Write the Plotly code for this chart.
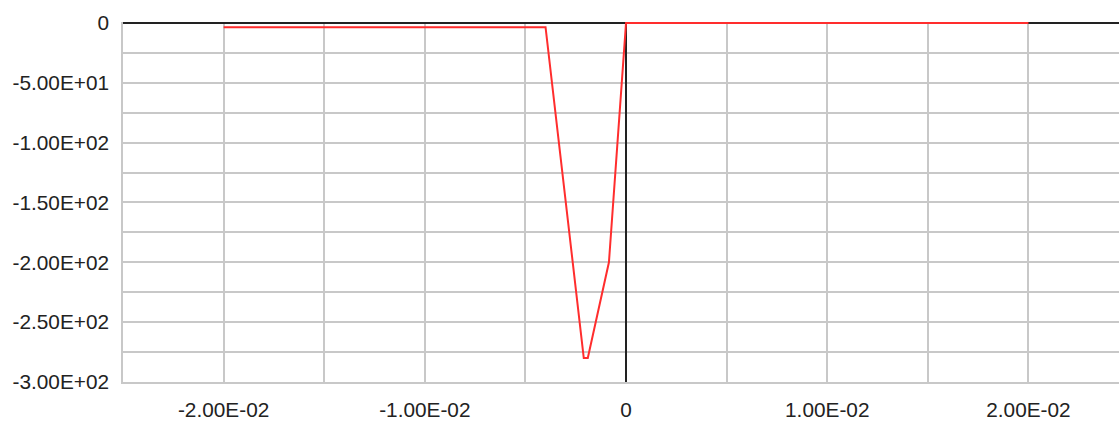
import plotly.graph_objects as go

# Data
x_vals = [-0.02, -0.004, -0.0021, -0.0019, -0.00085, -0.00025, 0.0, 0.02]
y_vals = [-3.5, -3.5, -280.0, -280.0, -200.0, -64.0, 0.0, 0.0]

x_tickvals = [-0.02, -0.01, 0.0, 0.01, 0.02]
x_ticktext = ["-2.00E-02", "-1.00E-02", "0", "1.00E-02", "2.00E-02"]
y_tickvals = [0, -50, -100, -150, -200, -250, -300]
y_ticktext = ["0", "-5.00E+01", "-1.00E+02", "-1.50E+02", "-2.00E+02", "-2.50E+02", "-3.00E+02"]

FONT = "Liberation Sans, Arial, sans-serif"
GRID = "#c8c8c8"
FS = 20.8

fig = go.Figure()
fig.add_trace(go.Scatter(
    x=x_vals, y=y_vals, mode="lines",
    line=dict(color="rgb(255,45,45)", width=2),
    showlegend=False, hoverinfo="skip",
))

fig.update_layout(
    width=1119, height=423,
    margin=dict(l=123, r=0, t=22, b=41, autoexpand=False),
    paper_bgcolor="white", plot_bgcolor="white",
    font=dict(family=FONT, size=FS, color="#222"),
    showlegend=False,
)
fig.update_xaxes(
    range=[-0.025, 0.0245], automargin=False,
    tickmode="array", tickvals=x_tickvals, ticktext=x_ticktext,
    ticks="", ticklabelstandoff=8,
    showgrid=True, gridcolor=GRID, gridwidth=1.5,
    minor=dict(dtick=0.005, tick0=0, showgrid=True, gridcolor=GRID, gridwidth=1.5),
    zeroline=True, zerolinecolor="#222", zerolinewidth=2.2,
    showline=True, linecolor=GRID, linewidth=1.5,
    tickfont=dict(family=FONT, size=FS, color="#222"),
)
fig.update_yaxes(
    range=[-300, 0.8], automargin=False,
    tickmode="array", tickvals=y_tickvals, ticktext=y_ticktext,
    ticks="", ticklabelstandoff=8,
    showgrid=True, gridcolor=GRID, gridwidth=1.5,
    minor=dict(dtick=25, tick0=0, showgrid=True, gridcolor=GRID, gridwidth=1.5),
    zeroline=True, zerolinecolor="#222", zerolinewidth=2.2,
    showline=True, linecolor=GRID, linewidth=1.5,
    tickfont=dict(family=FONT, size=FS, color="#222"),
)

fig.write_html(
    "out.html",
    config={"displayModeBar": False},
    post_script="document.body.style.margin='0';document.body.style.overflow='hidden';",
)
